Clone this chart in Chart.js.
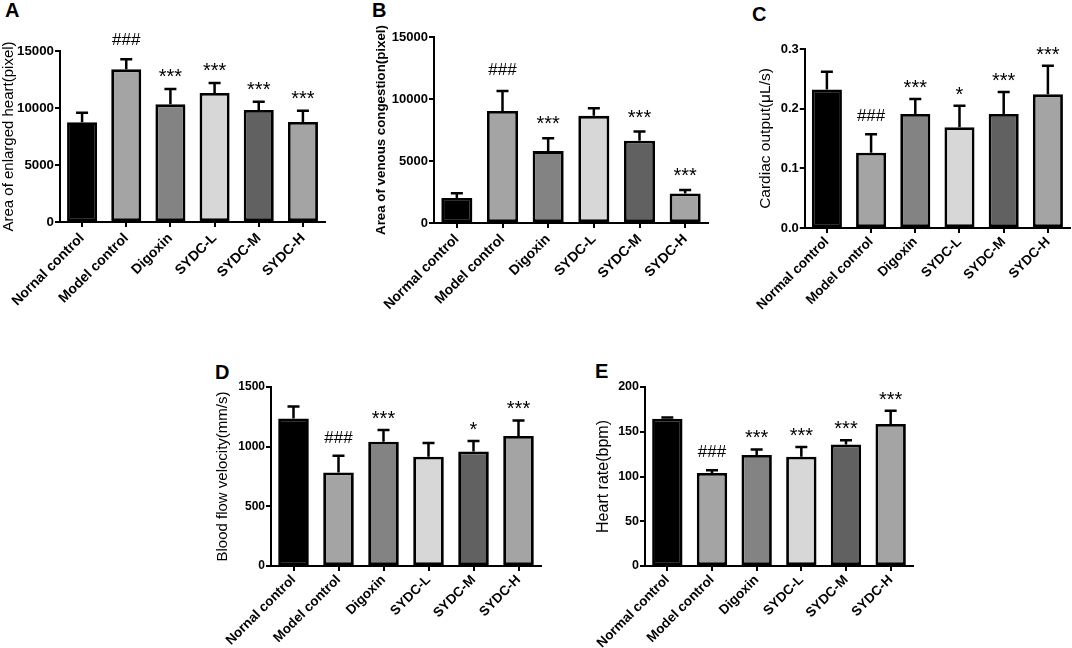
<!DOCTYPE html>
<html>
<head>
<meta charset="utf-8">
<script src="https://cdn.jsdelivr.net/npm/chart.js@4.4.1/dist/chart.umd.min.js"></script>
<style>
  html, body { margin: 0; padding: 0; background: #fff; }
  body { width: 1072px; height: 648px; position: relative; overflow: hidden; font-family: "Liberation Sans", Arial, sans-serif; }
  .panel { position: absolute; }
  .letter { position: absolute; font-weight: bold; font-size: 20px; line-height: 20px; color: #000; }
</style>
</head>
<body>
<div class="letter" style="left:5px;top:0px">A</div>
<div class="letter" style="left:372px;top:0px">B</div>
<div class="letter" style="left:752px;top:4px">C</div>
<div class="letter" style="left:215px;top:362px">D</div>
<div class="letter" style="left:595px;top:361px">E</div>

<div class="panel" style="left:0px;top:0px;width:335px;height:320px"><canvas id="chartA"></canvas></div>
<div class="panel" style="left:373px;top:0px;width:345px;height:320px"><canvas id="chartB"></canvas></div>
<div class="panel" style="left:754px;top:0px;width:318px;height:320px"><canvas id="chartC"></canvas></div>
<div class="panel" style="left:214px;top:330px;width:336px;height:318px"><canvas id="chartD"></canvas></div>
<div class="panel" style="left:594px;top:330px;width:331px;height:318px"><canvas id="chartE"></canvas></div>

<script>
// Grupos (A y D llevan la errata "Nornal" del original)
var groupsTypo = ['Nornal control', 'Model control', 'Digoxin', 'SYDC-L', 'SYDC-M', 'SYDC-H'];
var groups = ['Normal control', 'Model control', 'Digoxin', 'SYDC-L', 'SYDC-M', 'SYDC-H'];

// A - area of enlarged heart
var heartArea = [8750, 13390, 10320, 11310, 9820, 8770];
var heartAreaErr = [840, 880, 1350, 880, 730, 990];
var heartAreaMarks = ['', '###', '***', '***', '***', '***'];

// B - area of venous congestion
var venousArea = [2020, 9040, 5800, 8640, 6640, 2380];
var venousAreaErr = [380, 1600, 1030, 620, 730, 290];
var venousAreaMarks = ['', '###', '***', '', '***', '***'];

// C - cardiac output
var cardiacOutput = [0.232, 0.126, 0.191, 0.169, 0.191, 0.224];
var cardiacOutputErr = [0.030, 0.031, 0.025, 0.036, 0.037, 0.048];
var cardiacOutputMarks = ['', '###', '***', '*', '***', '***'];

// D - blood flow velocity
var bloodFlow = [1236, 783, 1041, 915, 959, 1089];
var bloodFlowErr = [101, 140, 98, 115, 88, 131];
var bloodFlowMarks = ['', '###', '***', '', '*', '***'];

// E - heart rate
var heartRate = [164.6, 103.9, 124, 122.1, 135.7, 158.7];
var heartRateErr = [1.2, 3.0, 6.3, 10.9, 4.8, 14.8];
var heartRateMarks = ['', '###', '***', '***', '***', '***'];

var barColors = ['#000000', '#a4a4a4', '#838383', '#d7d7d7', '#616161', '#a4a4a4'];
var FONT = '"Liberation Sans", Arial, sans-serif';

// Plugin para barras de error (solo hacia arriba) y marcas de significancia
var errorBarPlugin = {
    id: 'errorBars',
    afterDraw: function (chart) {
        var opts = chart.options.plugins.errorBars;
        var meta = chart.getDatasetMeta(0);
        var yScale = chart.scales.y;
        var values = chart.data.datasets[0].data;
        var ctx = chart.ctx;
        ctx.save();
        ctx.strokeStyle = '#000';
        ctx.lineWidth = 2.5;
        ctx.fillStyle = '#000';
        ctx.textAlign = 'center';
        ctx.textBaseline = 'alphabetic';
        meta.data.forEach(function (bar, i) {
            var yTop = yScale.getPixelForValue(values[i]);
            var yErr = yScale.getPixelForValue(values[i] + opts.errors[i]);
            ctx.beginPath();
            ctx.moveTo(bar.x, yTop);
            ctx.lineTo(bar.x, yErr);
            ctx.moveTo(bar.x - 6, yErr);
            ctx.lineTo(bar.x + 6, yErr);
            ctx.stroke();

            var mark = opts.marks[i];
            if (!mark) return;
            var bottom = yErr - opts.gap;
            if (mark.charAt(0) === '#') {
                ctx.font = '17px ' + FONT;
                ctx.fillText(mark, bar.x, bottom);
            } else {
                ctx.font = '20px ' + FONT;
                ctx.fillText(mark, bar.x, bottom + 8);
            }
        });
        ctx.restore();
    }
};

function createBarChart(id, labels, values, errors, marks, cfg) {
    var ctx = document.getElementById(id).getContext('2d');
    return new Chart(ctx, {
        type: 'bar',
        data: {
            labels: labels,
            datasets: [{
                data: values,
                backgroundColor: barColors,
                borderColor: '#000',
                borderWidth: 2.8,
                borderSkipped: false,
                barPercentage: 0.68,
                categoryPercentage: 1
            }]
        },
        options: {
            responsive: true,
            maintainAspectRatio: false,
            animation: false,
            layout: { padding: { top: cfg.padTop, right: cfg.padRight, left: 0, bottom: 0 } },
            plugins: {
                legend: { display: false },
                tooltip: { enabled: false },
                errorBars: { errors: errors, marks: marks, gap: cfg.gap }
            },
            scales: {
                x: {
                    grid: { offset: false, drawOnChartArea: false, tickLength: 5, color: '#000', lineWidth: 2 },
                    border: { color: '#000', width: 2 },
                    ticks: {
                        autoSkip: false, maxRotation: 45, minRotation: 45, padding: cfg.catPad,
                        color: '#000', font: { family: FONT, size: cfg.catSize, weight: 'bold' }
                    },
                    afterFit: function (s) { s.height = cfg.xH; }
                },
                y: {
                    min: 0,
                    max: cfg.max,
                    grid: { drawOnChartArea: false, tickLength: 5, color: '#000', lineWidth: 2 },
                    border: { color: '#000', width: 2 },
                    ticks: {
                        stepSize: cfg.step, padding: 1, color: '#000',
                        font: { family: FONT, size: cfg.tickSize, weight: 'bold' },
                        callback: cfg.fmt || function (v) { return v; }
                    },
                    title: {
                        display: true, text: cfg.title, color: '#000', padding: 0,
                        font: { family: FONT, size: cfg.titleSize, weight: cfg.titleWeight || 'normal' }
                    },
                    afterFit: function (s) { s.width = cfg.yW; }
                }
            }
        },
        plugins: [errorBarPlugin]
    });
}

createBarChart('chartA', groupsTypo, heartArea, heartAreaErr, heartAreaMarks, {
    max: 15000, step: 5000, title: 'Area of enlarged heart(pixel)',
    yW: 60, xH: 98, padTop: 51, padRight: 10, gap: 14,
    tickSize: 13.3, titleSize: 15, catSize: 14, catPad: 3
});

createBarChart('chartB', groups, venousArea, venousAreaErr, venousAreaMarks, {
    max: 15000, step: 5000, title: 'Area of venous congestion(pixel)', titleWeight: 'bold',
    yW: 61, xH: 97, padTop: 37, padRight: 10, gap: 16,
    tickSize: 13, titleSize: 13.3, catSize: 14, catPad: 3
});

createBarChart('chartC', groups, cardiacOutput, cardiacOutputErr, cardiacOutputMarks, {
    max: 0.3, step: 0.1, title: 'Cardiac output(\u03bcL/s)',
    fmt: function (v) { return v.toFixed(1); },
    yW: 48, xH: 92, padTop: 49, padRight: 2, gap: 13,
    tickSize: 13, titleSize: 15.5, catSize: 13.5, catPad: 1
});

createBarChart('chartD', groupsTypo, bloodFlow, bloodFlowErr, bloodFlowMarks, {
    max: 1500, step: 500, title: 'Blood flow velocity(mm/s)',
    yW: 57, xH: 82, padTop: 57, padRight: 9, gap: 13,
    tickSize: 12, titleSize: 15, catSize: 13.5, catPad: 1
});

createBarChart('chartE', groups, heartRate, heartRateErr, heartRateMarks, {
    max: 200, step: 50, title: 'Heart rate(bpm)',
    yW: 51, xH: 82, padTop: 57, padRight: 12, gap: 13,
    tickSize: 12.5, titleSize: 16, catSize: 13.5, catPad: 1
});
</script>
</body>
</html>
